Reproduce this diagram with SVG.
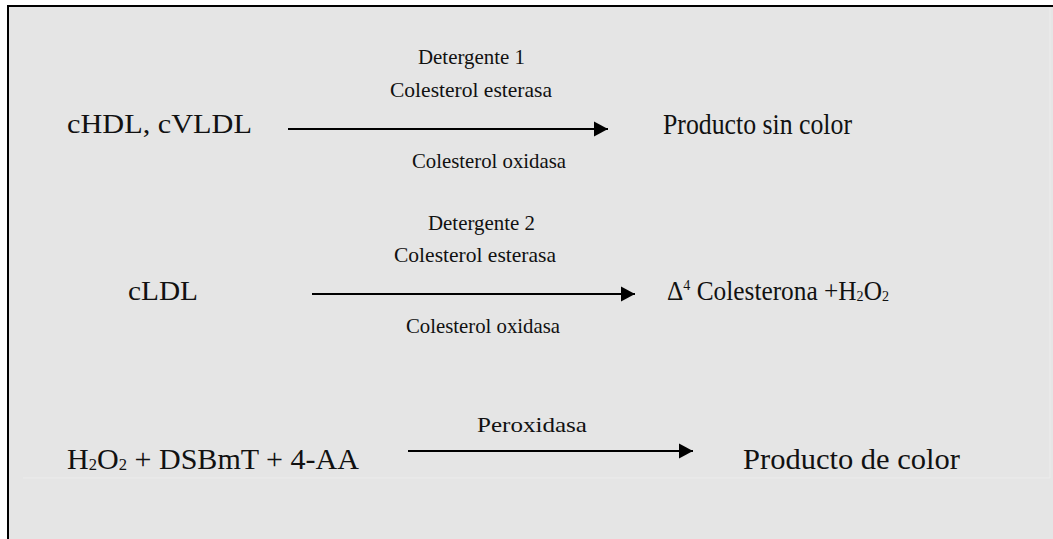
<svg xmlns="http://www.w3.org/2000/svg" width="1053" height="539" viewBox="0 0 1053 539">
<style>
text{font-family:"Liberation Serif","Times New Roman",serif;fill:#111;}
.s{font-size:22px;}
.l{font-size:27px;}
.xl{font-size:29px;}
.arrow{stroke:#000;stroke-width:2;fill:none;}
</style>
<defs>
<marker id="ah" markerUnits="userSpaceOnUse" markerWidth="14" markerHeight="16" refX="14" refY="8" orient="auto">
<path d="M0,0.5 L14,8 L0,15.5 Z" fill="#000"/>
</marker>
</defs>
<rect x="0" y="0" width="1053" height="539" fill="#fff"/>
<rect x="8" y="6" width="1060" height="550" fill="#e5e5e5" stroke="#000" stroke-width="2"/>
<polyline points="23,478 1050,478 1050,8" fill="none" stroke="#ececec" stroke-width="1"/>

<g id="connectors">
<line class="arrow" x1="288" y1="129" x2="608" y2="129" marker-end="url(#ah)"/>
<line class="arrow" x1="312" y1="294" x2="635" y2="294" marker-end="url(#ah)"/>
<line class="arrow" x1="408" y1="451" x2="693" y2="451" marker-end="url(#ah)"/>
</g>

<g id="n-hdl"><text class="l" x="67" y="133" font-size="26" textLength="185" lengthAdjust="spacingAndGlyphs">cHDL, cVLDL</text></g>
<g id="lbl-det1"><text class="s" x="418" y="64" textLength="107" lengthAdjust="spacingAndGlyphs">Detergente 1</text></g>
<g id="lbl-est1"><text class="s" x="390" y="97" textLength="162" lengthAdjust="spacingAndGlyphs">Colesterol esterasa</text></g>
<g id="lbl-oxi1"><text class="s" x="412" y="168" textLength="154" lengthAdjust="spacingAndGlyphs">Colesterol oxidasa</text></g>
<g id="n-sincolor"><text class="xl" x="663" y="134" textLength="189" lengthAdjust="spacingAndGlyphs">Producto sin color</text></g>

<g id="n-ldl"><text class="l" x="128" y="300" textLength="70" lengthAdjust="spacingAndGlyphs">cLDL</text></g>
<g id="lbl-det2"><text class="s" x="428" y="230" textLength="107" lengthAdjust="spacingAndGlyphs">Detergente 2</text></g>
<g id="lbl-est2"><text class="s" x="394" y="262" textLength="162" lengthAdjust="spacingAndGlyphs">Colesterol esterasa</text></g>
<g id="lbl-oxi2"><text class="s" x="406" y="333" textLength="154" lengthAdjust="spacingAndGlyphs">Colesterol oxidasa</text></g>
<g id="n-colesterona"><text class="l" x="667" y="300" textLength="222" lengthAdjust="spacingAndGlyphs">Δ<tspan font-size="15" dy="-10">4</tspan><tspan dy="10"> Colesterona +H</tspan><tspan font-size="15" dy="1">2</tspan><tspan dy="-1">O</tspan><tspan font-size="15" dy="1">2</tspan></text></g>

<g id="n-reactivos"><text class="xl" x="67" y="469" textLength="292" lengthAdjust="spacingAndGlyphs">H<tspan font-size="16" dy="1">2</tspan><tspan dy="-1">O</tspan><tspan font-size="16" dy="1">2</tspan><tspan dy="-1"> + DSBmT + 4-AA</tspan></text></g>
<g id="lbl-perox"><text class="s" x="477" y="432" textLength="110" lengthAdjust="spacingAndGlyphs">Peroxidasa</text></g>
<g id="n-decolor"><text class="xl" x="743" y="469" textLength="217" lengthAdjust="spacingAndGlyphs">Producto de color</text></g>
</svg>
